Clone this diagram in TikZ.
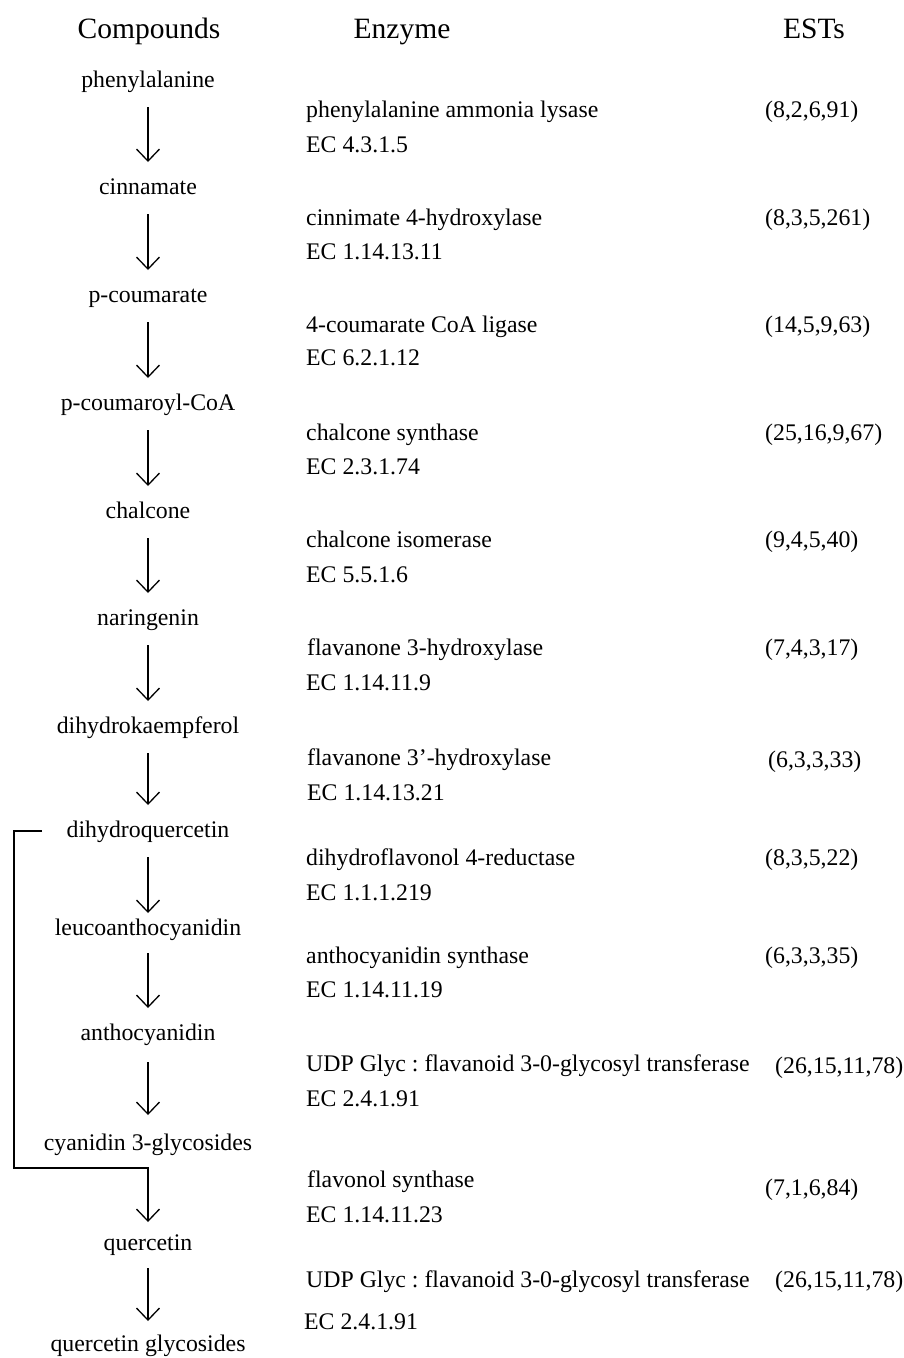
\documentclass[tikz,border=0pt]{standalone}
\usepackage{fontspec}
\setmainfont{Liberation Serif}
\usetikzlibrary{arrows.meta}
\frenchspacing
\begin{document}
\begin{tikzpicture}[x=1pt,y=-1pt,
  head/.style={font=\fontsize{29.5}{34}\selectfont, inner sep=0pt, anchor=base},
  cmpd/.style={font=\fontsize{23.8}{28}\selectfont, inner sep=0pt, text height=16pt, text depth=5pt, anchor=center},
  enz/.style={font=\fontsize{23.8}{28}\selectfont, inner sep=0pt, anchor=base west},
  est/.style={font=\fontsize{23.8}{28}\selectfont, inner sep=0pt, anchor=base west},
  tip/.style={-{Straight Barb[length=12pt,width=23pt]}},
  arr/.style={line width=1.3pt, tip, shorten <=25pt, shorten >=27pt},
  link/.style={line width=1.3pt}
]
\useasboundingbox (0,0) rectangle (904,1358);

% headers
\node[head] (hc) at (149,38) {Compounds};
\node[head] (he) at (402,38) {Enzyme};
\node[head] (hs) at (814,38) {ESTs};

% compounds
\node[cmpd] (c1)  at (148,82)   {phenylalanine};
\node[cmpd] (c2)  at (148,189)  {cinnamate};
\node[cmpd] (c3)  at (148,297)  {p-coumarate};
\node[cmpd] (c4)  at (148,405)  {p-coumaroyl-CoA};
\node[cmpd] (c5)  at (148,513)  {chalcone};
\node[cmpd] (c6)  at (148,620)  {naringenin};
\node[cmpd] (c7)  at (148,728)  {dihydrokaempferol};
\node[cmpd] (c8)  at (148,832)  {dihydroquercetin};
\node[cmpd] (c9)  at (148,930)  {leucoanthocyanidin};
\node[cmpd] (c10) at (148,1035) {anthocyanidin};
\node[cmpd] (c11) at (148,1145) {cyanidin 3-glycosides};
\node[cmpd] (c12) at (148,1245) {quercetin};
\node[cmpd] (c13) at (148,1346) {quercetin glycosides};

% arrows
\draw[arr] (c1.center) -- (c2.center);
\draw[arr] (c2.center) -- (c3.center);
\draw[arr] (c3.center) -- (c4.center);
\draw[arr] (c4.center) -- (c5.center);
\draw[arr] (c5.center) -- (c6.center);
\draw[arr] (c6.center) -- (c7.center);
\draw[arr] (c7.center) -- (c8.center);
\draw[arr, shorten >=17pt] (c8.center) -- (c9.center);
\draw[arr, shorten <=23pt] (c9.center) -- (c10.center);
\draw[arr, shorten <=27pt, shorten >=30pt] (c10.center) -- (c11.center);
\draw[arr, shorten <=23pt, shorten >=25pt] (c12.center) -- (c13.center);

% bypass bracket
\coordinate (bstart) at (42,831);
\coordinate (b1) at (14,831);
\coordinate (b2) at (14,1168);
\draw[link, tip, shorten >=23pt] (bstart) -- (b1) -- (b2) -| (c12.center);

% enzymes
\node[enz] (e1)  at (306,117)  {phenylalanine ammonia lysase};
\node[enz] (ec1) at (306,152)  {EC 4.3.1.5};
\node[enz] (e2)  at (306,225)  {cinnimate 4-hydroxylase};
\node[enz] (ec2) at (306,259)  {EC 1.14.13.11};
\node[enz] (e3)  at (306,332)  {4-coumarate CoA ligase};
\node[enz] (ec3) at (306,365)  {EC 6.2.1.12};
\node[enz] (e4)  at (306,440)  {chalcone synthase};
\node[enz] (ec4) at (306,474)  {EC 2.3.1.74};
\node[enz] (e5)  at (306,547)  {chalcone isomerase};
\node[enz] (ec5) at (306,582)  {EC 5.5.1.6};
\node[enz] (e6)  at (307,655)  {flavanone 3-hydroxylase};
\node[enz] (ec6) at (306,690)  {EC 1.14.11.9};
\node[enz] (e7)  at (307,765)  {flavanone 3’-hydroxylase};
\node[enz] (ec7) at (307,800)  {EC 1.14.13.21};
\node[enz] (e8)  at (306,865)  {dihydroflavonol 4-reductase};
\node[enz] (ec8) at (306,900)  {EC 1.1.1.219};
\node[enz] (e9)  at (306,963)  {anthocyanidin synthase};
\node[enz] (ec9) at (306,997)  {EC 1.14.11.19};
\node[enz] (e10)  at (306,1071) {UDP Glyc : flavanoid 3-0-glycosyl transferase};
\node[enz] (ec10) at (306,1106) {EC 2.4.1.91};
\node[enz] (e11)  at (307,1187) {flavonol synthase};
\node[enz] (ec11) at (306,1222) {EC 1.14.11.23};
\node[enz] (e12)  at (306,1287) {UDP Glyc : flavanoid 3-0-glycosyl transferase};
\node[enz] (ec12) at (304,1329) {EC 2.4.1.91};

% ESTs
\node[est] (s1)  at (765,117)  {(8,2,6,91)};
\node[est] (s2)  at (765,225)  {(8,3,5,261)};
\node[est] (s3)  at (765,332)  {(14,5,9,63)};
\node[est] (s4)  at (765,440)  {(25,16,9,67)};
\node[est] (s5)  at (765,547)  {(9,4,5,40)};
\node[est] (s6)  at (765,655)  {(7,4,3,17)};
\node[est] (s7)  at (768,767)  {(6,3,3,33)};
\node[est] (s8)  at (765,865)  {(8,3,5,22)};
\node[est] (s9)  at (765,963)  {(6,3,3,35)};
\node[est] (s10) at (775,1073) {(26,15,11,78)};
\node[est] (s11) at (765,1195) {(7,1,6,84)};
\node[est] (s12) at (775,1287) {(26,15,11,78)};
\end{tikzpicture}
\end{document}
